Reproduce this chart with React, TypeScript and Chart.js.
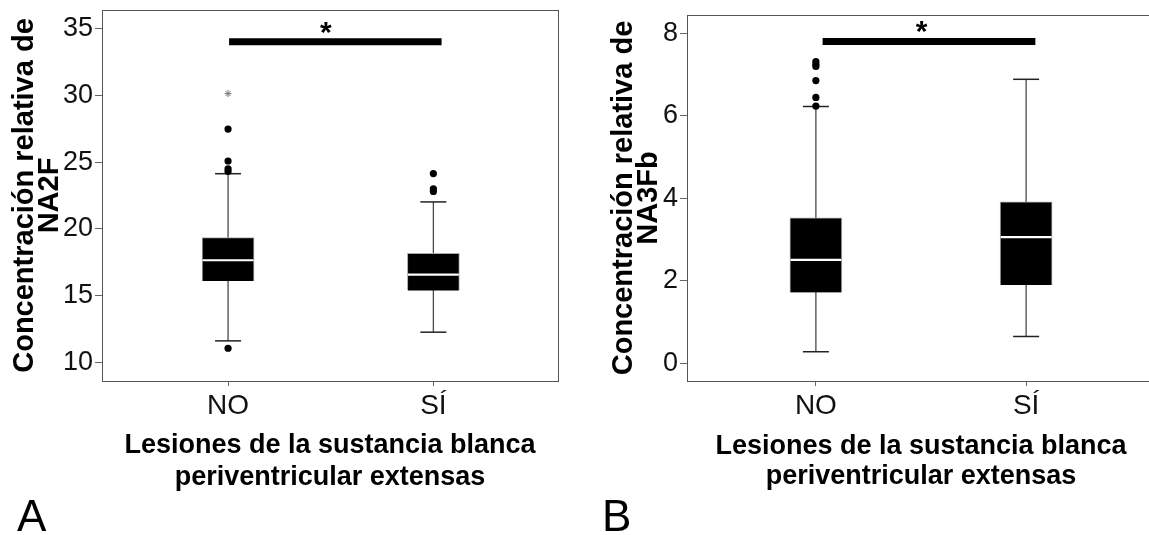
import React, { useEffect, useRef } from 'react';
import { Chart, registerables } from 'chart.js';
Chart.register(...registerables);

// ---------- shared ----------
const categories = ['NO', 'SÍ'];
const categoryPositions = [1, 2];
const xTitle = ['Lesiones de la sustancia blanca', 'periventricular extensas'];

// ---------- Panel A (NA2F) ----------
const a_q1 = [16.11, 15.39];
const a_median = [17.66, 16.59];
const a_q3 = [19.35, 18.18];
const a_whiskerLow = [11.63, 12.28];
const a_whiskerHigh = [24.13, 22.02];
const a_outliersNO = [11.08, 24.3, 24.5, 25.08, 27.47];
const a_outliersSI = [22.8, 23.0, 24.14];
const a_extremesNO = [30.12];
const a_extremesSI: number[] = [];
const a_yTicks = [10, 15, 20, 25, 30, 35];
const a_yRange = [8.63, 36.37];
const a_xRange = [0.386, 2.607];
const a_sigBar = [1.005, 2.04];
const a_sigLevel = 34.0;
const a_sigStarX = 1.476;
const a_yTitle = ['Concentración relativa de', 'NA2F'];

// ---------- Panel B (NA3Fb) ----------
const b_q1 = [1.72, 1.9];
const b_median = [2.51, 3.06];
const b_q3 = [3.53, 3.92];
const b_whiskerLow = [0.28, 0.65];
const b_whiskerHigh = [6.23, 6.89];
const b_outliersNO = [6.24, 6.45, 6.86, 7.2, 7.25, 7.32];
const b_outliersSI: number[] = [];
const b_extremesNO: number[] = [];
const b_extremesSI: number[] = [];
const b_yTicks = [0, 2, 4, 6, 8];
const b_yRange = [-0.43, 8.45];
const b_xRange = [0.387, 2.613];
const b_sigBar = [1.032, 2.044];
const b_sigLevel = 7.81;
const b_sigStarX = 1.503;
const b_yTitle = ['Concentración relativa de', 'NA3Fb'];

const FONT = "'Liberation Sans', Arial, 'DejaVu Sans', sans-serif";

type Layout = {
  padTop: number;
  padRight: number;
  padBottom: number;
  yWidth: number;
  xHeight: number;
  yTitlePad: number;
  xTitleLH: number;
};

function makeConfig(d: any, L: Layout) {
  const whiskers: any[] = [];
  const caps: any[] = [];
  const boxes: any[] = [];
  const medians: any[] = [];
  const outliers: any[] = [];
  const extremes: any[] = [];
  categoryPositions.forEach((x, i) => {
    whiskers.push({ x, y: d.wLo[i] }, { x, y: d.wHi[i] }, { x, y: null });
    caps.push({ x, y: d.wLo[i] }, { x, y: d.wHi[i] });
    boxes.push({ x, y: [d.q1[i], d.q3[i]] });
    medians.push({ x, y: d.med[i] });
    d.out[i].forEach((v: number) => outliers.push({ x, y: v }));
    d.ext[i].forEach((v: number) => extremes.push({ x, y: v }));
  });
  const sig = [
    { x: d.sigBar[0], y: d.sigLevel },
    { x: d.sigBar[1], y: d.sigLevel },
  ];

  const framePlugin = {
    id: 'frame',
    beforeDatasetsDraw(chart: any) {
      const { ctx, chartArea: a } = chart;
      ctx.save();
      ctx.strokeStyle = '#555';
      ctx.lineWidth = 1;
      ctx.strokeRect(
        Math.round(a.left) + 0.5,
        Math.round(a.top) + 0.5,
        Math.round(a.right - a.left),
        Math.round(a.bottom - a.top)
      );
      ctx.restore();
    },
  };
  const starPlugin = {
    id: 'sigStar',
    afterDatasetsDraw(chart: any) {
      const { ctx, scales } = chart;
      ctx.save();
      ctx.font = `bold 30px ${FONT}`;
      ctx.fillStyle = '#000';
      ctx.textAlign = 'center';
      ctx.textBaseline = 'alphabetic';
      ctx.fillText('*', scales.x.getPixelForValue(d.sigStarX), scales.y.getPixelForValue(d.sigLevel));
      ctx.restore();
    },
  };

  const zeroPad = (s: any) => {
    s.paddingTop = 0;
    s.paddingBottom = 0;
    s.paddingLeft = 0;
    s.paddingRight = 0;
  };

  return {
    type: 'scatter',
    data: {
      datasets: [
        { type: 'line', data: whiskers, borderColor: '#4a4a4a', borderWidth: 1.3, pointRadius: 0, spanGaps: false, order: 6 },
        { type: 'scatter', data: caps, pointStyle: 'line', pointRadius: 13, pointBorderColor: '#222', pointBorderWidth: 1.5, order: 5 },
        { type: 'bar', data: boxes, barThickness: 52, backgroundColor: '#000', borderColor: '#aaa', borderWidth: 1, grouped: false, order: 4 },
        { type: 'scatter', data: medians, pointStyle: 'line', pointRadius: 25.5, pointBorderColor: '#fff', pointBorderWidth: 2.2, order: 3 },
        { type: 'scatter', data: outliers, pointStyle: 'circle', pointRadius: 3.6, pointBackgroundColor: '#000', pointBorderColor: '#000', pointBorderWidth: 0, order: 2 },
        { type: 'scatter', data: extremes, pointStyle: 'star', pointRadius: 3.5, pointBorderColor: '#777', pointBorderWidth: 1, order: 2 },
        { type: 'line', data: sig, borderColor: '#000', borderWidth: 7, pointRadius: 0, borderCapStyle: 'butt', order: 1 },
      ],
    },
    options: {
      responsive: false,
      animation: false,
      devicePixelRatio: 1,
      events: [],
      layout: { autoPadding: false, padding: { top: L.padTop, left: 0, right: L.padRight, bottom: L.padBottom } },
      plugins: { legend: { display: false }, tooltip: { enabled: false } },
      scales: {
        x: {
          type: 'linear',
          min: d.xRange[0],
          max: d.xRange[1],
          offset: false,
          afterBuildTicks: (s: any) => {
            s.ticks = categoryPositions.map((v) => ({ value: v }));
          },
          afterFit: (s: any) => {
            s.height = L.xHeight;
            zeroPad(s);
          },
          ticks: {
            callback: (v: any) => {
              const i = categoryPositions.indexOf(v);
              return i >= 0 ? categories[i] : '';
            },
            font: { family: FONT, size: 28 },
            color: '#111',
            padding: 3,
            maxRotation: 0,
            autoSkip: false,
          },
          grid: { display: true, offset: false, drawOnChartArea: false, drawTicks: true, tickLength: 5, color: '#666' },
          border: { display: false },
          title: {
            display: true,
            text: xTitle,
            color: '#000',
            font: { family: FONT, size: 27, weight: 'bold', lineHeight: L.xTitleLH },
            padding: { top: 0, bottom: 0 },
          },
        },
        y: {
          type: 'linear',
          min: d.yRange[0],
          max: d.yRange[1],
          beginAtZero: false,
          afterBuildTicks: (s: any) => {
            s.ticks = d.yTicks.map((v: number) => ({ value: v }));
          },
          afterFit: (s: any) => {
            s.width = L.yWidth;
            zeroPad(s);
          },
          ticks: {
            font: { family: FONT, size: 27 },
            color: '#111',
            padding: 2,
          },
          grid: { display: true, offset: false, drawOnChartArea: false, drawTicks: true, tickLength: 7, color: '#666' },
          border: { display: false },
          title: {
            display: true,
            text: d.yTitle,
            color: '#000',
            font: { family: FONT, size: 29, weight: 'bold', lineHeight: 0.87 },
            padding: { top: L.yTitlePad, bottom: 0 },
          },
        },
      },
    },
    plugins: [framePlugin, starPlugin],
  };
}

const panelA = {
  q1: a_q1, med: a_median, q3: a_q3, wLo: a_whiskerLow, wHi: a_whiskerHigh,
  out: [a_outliersNO, a_outliersSI], ext: [a_extremesNO, a_extremesSI],
  yTicks: a_yTicks, yRange: a_yRange, xRange: a_xRange,
  sigBar: a_sigBar, sigLevel: a_sigLevel, sigStarX: a_sigStarX, yTitle: a_yTitle,
};
const panelB = {
  q1: b_q1, med: b_median, q3: b_q3, wLo: b_whiskerLow, wHi: b_whiskerHigh,
  out: [b_outliersNO, b_outliersSI], ext: [b_extremesNO, b_extremesSI],
  yTicks: b_yTicks, yRange: b_yRange, xRange: b_xRange,
  sigBar: b_sigBar, sigLevel: b_sigLevel, sigStarX: b_sigStarX, yTitle: b_yTitle,
};

const layoutA: Layout = { padTop: 10, padRight: 17, padBottom: 42, yWidth: 102, xHeight: 112, yTitlePad: 12, xTitleLH: 1.17 };
const layoutB: Layout = { padTop: 15, padRight: 10, padBottom: 43.5, yWidth: 112, xHeight: 110.5, yTitlePad: 36, xTitleLH: 1.1 };

function Panel({ data, layout, left, width }: any) {
  const ref = useRef<HTMLCanvasElement>(null);
  useEffect(() => {
    const chart = new Chart(ref.current as HTMLCanvasElement, makeConfig(data, layout) as any);
    return () => chart.destroy();
  }, []);
  return (
    <canvas
      ref={ref}
      width={width}
      height={535}
      style={{ position: 'absolute', left, top: 0, width, height: 535, display: 'block' }}
    />
  );
}

export default function App() {
  const letter: React.CSSProperties = {
    position: 'absolute',
    fontFamily: FONT,
    fontSize: 44,
    lineHeight: '44px',
    color: '#000',
    top: 494,
  };
  return (
    <div style={{ position: 'absolute', left: 0, top: 0, width: 1149, height: 535, overflow: 'hidden', background: '#fff' }}>
      <Panel data={panelA} layout={layoutA} left={0} width={575} />
      <Panel data={panelB} layout={layoutB} left={575} width={590} />
      <div style={{ ...letter, left: 17 }}>A</div>
      <div style={{ ...letter, left: 602 }}>B</div>
    </div>
  );
}
